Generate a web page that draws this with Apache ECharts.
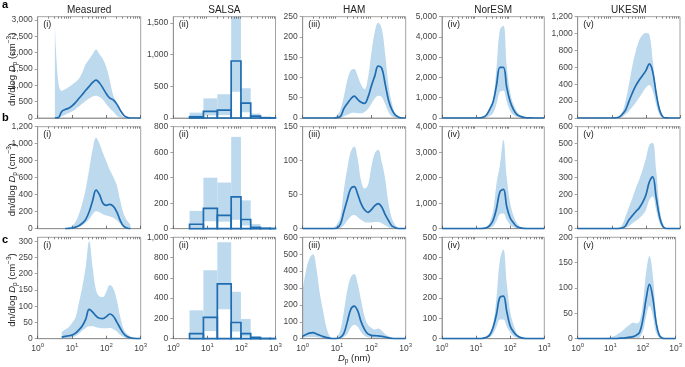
<!DOCTYPE html>
<html><head><meta charset="utf-8">
<script src="https://cdn.jsdelivr.net/npm/echarts@6/dist/echarts.min.js"></script>
<style>html,body{margin:0;padding:0;background:#fff}#c{width:685px;height:367px}</style>
</head><body><div id="c"></div><script>
const N = null;
// particle diameter grid (nm), shared by all smooth curves
const D = [1,1.26,1.58,2,2.51,3.16,3.98,5.01,6.31,7.94,10,12.6,15.8,20,25.1,31.6,39.8,50.1,63.1,79.4,100,126,158,200,251,316,398,501,631,794,1000];

// ---- Measured ----
const measA_med = [N,N,N,N,N, 0,10,200,260,298, 370,473,596,720,850, 966,1089,1160,1069,915, 740,607,555,432,246, 92,20,0,0,0, 0];
const measA_hi  = [N,N,N,N,N, 2900,1100,830,880,950, 1020,1100,1200,1400,1650, 1800,1950,2100,1950,1800, 1550,1150,700,470,150, 30,0,0,0,0, 0];
const measA_lo  = [N,N,N,N,N, 0,0,50,100,150, 200,270,350,440,530, 600,660,680,640,560, 420,300,200,80,20, 0,0,0,0,0, 0];
const measB_med = [N,N,N,N,N, N,N,N,0,3, 8,18,35,65,110, 200,330,455,400,300, 275,287,265,200,100, 30,8,0,N,N, N];
const measB_hi  = [N,N,N,N,N, N,N,N,5,15, 35,80,170,300,470, 700,930,1070,1000,890, 790,690,612,514,337, 180,100,50,N,N, N];
const measB_lo  = [N,N,N,N,N, N,N,N,0,2, 5,10,20,40,70, 110,170,205,195,170, 155,145,130,100,60, 25,8,0,N,N, N];
const measC_med = [N,N,N,N,N, N,N,5,7,9, 11,17,27,40,60, 90,82,70,63,62, 68,76,70,52,33, 16,7,3,1,0, 0];
const measC_hi  = [N,N,N,N,N, N,N,20,28,35, 48,65,110,160,222, 300,220,150,130,128, 145,165,155,120,70, 30,15,7,2,0, 0];
const measC_lo  = [N,N,N,N,N, N,N,0,1,2, 4,8,15,25,33, 38,38,35,33,32, 32,33,30,22,12, 5,1,0,0,0, 0];

// ---- SALSA (sectional bins) ----
const salsaEdges = [3, 7.66, 19.6, 50, 96.7, 187, 362, 700, 1000];
const salsaA_med = [20, 105, 125, 900, 235, 30, 5, 2];
const salsaA_hi  = [85, 310, 375, 1700, 470, 70, 15, 5];
const salsaA_lo  = [5, 40, 45, 415, 90, 10, 0, 0];
const salsaB_med = [35, 160, 105, 250, 72, 10, 3, 2];
const salsaB_hi  = [140, 400, 362, 720, 222, 36, 12, 5];
const salsaB_lo  = [10, 58, 55, 70, 25, 0, 0, 0];
const salsaC_med = [50, 210, 540, 160, 50, 12, 3, 2];
const salsaC_hi  = [280, 675, 950, 463, 195, 25, 6, 3];
const salsaC_lo  = [10, 75, 290, 70, 20, 0, 0, 0];

// ---- HAM ----
const hamA_med = [0,0,0,0,0, 0,0,0,0,0, 1,4,23,36,47, 54,46,39,36,51, 79,104,128,123,85, 44,20,7,2,0, 0];
const hamA_hi  = [0,0,0,0,0, 0,0,0,0,0, 7,21,53,94,117, 121,104,82,71,98, 160,213,235,221,160, 81,36,11,3,0, 0];
const hamA_lo  = [0,0,0,0,0, 0,0,0,0,0, 0,1,4,8,12, 13,12,12,15,22, 35,48,55,52,35, 15,4,1,0,0, 0];
const hamB_med = [0,0,0,0,0, 0,0,0,0,0, 1,7,25,43,59, 62,51,37,28,24, 28,34,37,32,21, 12,4,1.5,0,0, 0];
const hamB_hi  = [0,0,0,0,0, 0,0,0,0,1.5, 7,18,57,89,113, 121,103,71,59,64, 91,111,116,98,74, 37,15,5,1,0, 0];
const hamB_lo  = [0,0,0,0,0, 0,0,0,0,0, 0,1,5,12,18, 20,17,13,10,9, 9,10,10,8,5, 2,0,0,0,0, 0];
const hamC_med = [16,25,33,36,28, 20,12,6,2,0, 1,8,32,101,174, 193,166,101,55,28, 20,18,17,14,10, 5,2,0,0,0, 0];
const hamC_hi  = [288,407,475,499,416, 268,160,61,12,2, 12,55,160,288,363, 383,327,229,135,82, 64,55,61,47,28, 14,6,1,0,0, 0];
const hamC_lo  = [5,8,10,10,8, 5,3,1,0,0, 0,2,10,30,65, 82,70,40,18,8, 5,4,4,3,2, 0,0,0,0,0, 0];

// ---- NorESM ----
const norA_med = [0,0,0,0,0, 0,0,0,0,0, 0,5,30,150,430, 800,1630,2500,2500,1500, 800,400,165,80,30, 10,2,0,0,0, 0];
const norA_hi  = [0,0,0,0,0, 0,0,0,0,0, 0,5,40,150,400, 900,2500,4350,4550,2550, 1250,650,320,130,50, 15,3,0,0,0, 0];
const norA_lo  = [0,0,0,0,0, 0,0,0,0,0, 0,0,0,30,100, 250,700,1300,1350,800, 350,150,60,20,5, 0,0,0,0,0, 0];
const norB_med = [0,0,0,0,0, 0,0,0,0,0, 0,0,10,40,120, 330,800,1450,1540,850, 420,220,80,30,10, 3,0,0,0,0, 0];
const norB_hi  = [0,0,0,0,0, 0,0,0,0,0, 0,0,20,60,250, 700,1780,2500,3480,2000, 1000,500,210,80,25, 5,0,0,0,0, 0];
const norB_lo  = [0,0,0,0,0, 0,0,0,0,0, 0,0,0,10,40, 100,300,580,600,350, 150,60,20,5,0, 0,0,0,0,0, 0];
const norC_med = [0,0,0,0,0, 0,0,0,0,0, 0,0,2,7,18, 56,122,205,210,133, 62,33,15,6,2, 0,0,0,0,0, 0];
const norC_hi  = [0,0,0,0,0, 0,0,0,0,0, 0,0,5,12,30, 75,207,390,440,273, 133,67,26,10,3, 0,0,0,0,0, 0];
const norC_lo  = [0,0,0,0,0, 0,0,0,0,0, 0,0,0,2,8, 25,60,95,95,60, 30,12,5,1,0, 0,0,0,0,0, 0];

// ---- UKESM ----
const ukA_med = [0,0,0,0,0, 0,0,0,0,0, 0,2,8,44,91, 194,293,380,447,503, 562,640,550,293,95, 12,1,0,0,0, 0];
const ukA_hi  = [0,0,0,0,0, 0,0,0,0,0, 0,3,8,63,194, 392,610,788,914,982, 1006,990,690,333,135, 28,3,0,0,0, 0];
const ukA_lo  = [0,0,0,0,0, 0,0,0,0,0, 0,0,0,10,40, 80,130,180,240,300, 360,390,320,160,40, 5,0,0,0,0, 0];
const ukB_med = [0,0,0,0,0, 0,0,0,0,0, 0,0,1,4,16, 51,76,100,121,153, 198,275,305,185,70, 12,1,0,0,0, 0];
const ukB_hi  = [0,0,0,0,0, 0,0,0,0,0, 0,0,5,22,70, 125,178,237,286,345, 413,492,505,345,130, 30,3,0,0,0, 0];
const ukB_lo  = [0,0,0,0,0, 0,0,0,0,0, 0,0,0,0,5, 15,30,45,60,80, 110,170,190,110,35, 5,0,0,0,0, 0];
const ukC_med = [0,0,0,0,0, 0,0,0,0,0, 0,0,0,1,1, 2,3,4,7,13, 39,80,107,81,33, 7,1,0,0,0, 0];
const ukC_hi  = [0,0,0,0,0, 0,0,0,1,2, 3,5,8,12,17, 23,28,32,30,35, 71,132,163,125,47, 9,2,0,0,0, 0];
const ukC_lo  = [0,0,0,0,0, 0,0,0,0,0, 0,0,0,0,0, 0,0,0,0,3, 15,45,65,45,12, 2,0,0,0,0, 0];

// ---- labels / axes ----
const colTitles = ['Measured', 'SALSA', 'HAM', 'NorESM', 'UKESM'];
const panelTags = ['(i)', '(ii)', '(iii)', '(iv)', '(v)'];
const rowTags = ['a', 'b', 'c'];
const yMax  = [[3100, 1600, 250, 5000, 1200], [1200, 800, 150, 4000, 600], [312, 1000, 600, 500, 200]];
const yStep = [[500, 500, 50, 1000, 200], [200, 200, 50, 1000, 100], [50, 200, 100, 100, 50]];
const xMajor = [1, 10, 100, 1000];
const xMinor = [2,3,4,5,6,7,8,9,20,30,40,50,60,70,80,90,200,300,400,500,600,700,800,900];

const smoothData = {
  '0_0': [measA_med, measA_hi, measA_lo], '1_0': [measB_med, measB_hi, measB_lo], '2_0': [measC_med, measC_hi, measC_lo],
  '0_2': [hamA_med, hamA_hi, hamA_lo], '1_2': [hamB_med, hamB_hi, hamB_lo], '2_2': [hamC_med, hamC_hi, hamC_lo],
  '0_3': [norA_med, norA_hi, norA_lo], '1_3': [norB_med, norB_hi, norB_lo], '2_3': [norC_med, norC_hi, norC_lo],
  '0_4': [ukA_med, ukA_hi, ukA_lo], '1_4': [ukB_med, ukB_hi, ukB_lo], '2_4': [ukC_med, ukC_hi, ukC_lo]
};
const salsaData = [[salsaA_med, salsaA_hi, salsaA_lo], [salsaB_med, salsaB_hi, salsaB_lo], [salsaC_med, salsaC_hi, salsaC_lo]];

// ---- layout (px) ----
const LEFT = [37.7, 173.3, 302.7, 442, 577.7];
const WIDTH = [103, 102.2, 103, 102.3, 102.3];
const TOP = [16.7, 126.7, 237.3];
const HEIGHT = [101.3, 102, 101.4];
const BLUE = '#1f6cb0', BAND = '#bcd9ee', FRAME = '#8c8c8c', TICK = '#555', LBL = '#444', TXT = '#222';
const FONT = '"Liberation Sans", Arial, Helvetica, sans-serif';

const grid = [], xAxis = [], yAxis = [], series = [], graphic = [];
const pairs = arr => arr.map((v, k) => [D[k], v]);

let gi = 0;
for (let r = 0; r < 3; r++) {
  for (let c = 0; c < 5; c++) {
    grid.push({left: LEFT[c], top: TOP[r], width: WIDTH[c], height: HEIGHT[r], show: true,
      borderColor: FRAME, borderWidth: 0.8, backgroundColor: 'transparent', z: 5});
    const xa = 2 * gi;
    xAxis.push({gridIndex: gi, type: 'log', logBase: 10, min: 1, max: 1000, z: 5,
      axisLine: {show: true, lineStyle: {color: FRAME, width: 0.8}},
      axisTick: {show: true, inside: true, length: 3, customValues: xMajor, lineStyle: {color: TICK, width: 0.8}},
      splitLine: {show: false},
      axisLabel: {show: r === 2, customValues: xMajor, margin: 4, fontSize: 8.5, color: LBL, fontFamily: FONT, lineHeight: 11,
        formatter: v => '10{s|' + Math.round(Math.log10(v)) + '}',
        rich: {s: {fontSize: 6, verticalAlign: 'top', lineHeight: 6, color: LBL, fontFamily: FONT}}}
    });
    xAxis.push({gridIndex: gi, type: 'log', logBase: 10, min: 1, max: 1000, z: 5,
      axisLine: {show: false}, splitLine: {show: false}, axisLabel: {show: false},
      axisTick: {show: true, inside: true, length: 2, customValues: xMinor, lineStyle: {color: TICK, width: 0.7}}
    });
    const tv = [];
    for (let v = 0; v <= yMax[r][c] + 1e-9; v += yStep[r][c]) tv.push(v);
    yAxis.push({gridIndex: gi, type: 'value', min: 0, max: yMax[r][c], interval: yStep[r][c], z: 5,
      axisLine: {show: true, lineStyle: {color: FRAME, width: 0.8}},
      axisTick: {show: true, inside: false, length: 3, customValues: tv, lineStyle: {color: FRAME, width: 0.8}},
      splitLine: {show: false},
      axisLabel: {customValues: tv, margin: 5, fontSize: 8.5, color: LBL, fontFamily: FONT,
        formatter: v => (tv.indexOf(v) >= 0 ? v.toLocaleString('en-US') : '')}
    });

    if (c === 1) {
      const [med, hi, lo] = salsaData[r];
      const bins = med.map((m, i) => [salsaEdges[i], salsaEdges[i + 1], lo[i], hi[i], m]);
      series.push({type: 'custom', xAxisIndex: xa, yAxisIndex: gi, data: bins, z: 1, silent: true,
        encode: {x: [0, 1], y: [2, 3]},
        renderItem: (params, api) => {
          const a = api.coord([api.value(0), api.value(2)]);
          const b = api.coord([api.value(1), api.value(3)]);
          const cs = params.coordSys;
          const shape = echarts.graphic.clipRectByRect({x: a[0], y: b[1], width: b[0] - a[0], height: a[1] - b[1]},
            {x: cs.x, y: cs.y, width: cs.width, height: cs.height});
          return shape ? {type: 'rect', shape, style: {fill: BAND}} : null;
        }});
      series.push({type: 'custom', xAxisIndex: xa, yAxisIndex: gi, data: bins, z: 6, silent: true,
        encode: {x: [0, 1], y: [4]},
        renderItem: (params, api) => {
          const a = api.coord([api.value(0), 0]);
          const b = api.coord([api.value(1), api.value(4)]);
          return {type: 'rect', shape: {x: a[0], y: b[1], width: b[0] - a[0], height: a[1] - b[1]},
            style: {fill: 'none', stroke: BLUE, lineWidth: 1.7}};
        }});
    } else {
      const [med, hi, lo] = smoothData[r + '_' + c];
      const base = {type: 'line', xAxisIndex: xa, yAxisIndex: gi, smooth: 0.4, symbol: 'none', showSymbol: false, silent: true, connectNulls: false};
      series.push(Object.assign({}, base, {data: pairs(hi), z: 1, lineStyle: {width: 0, opacity: 0}, areaStyle: {color: BAND, opacity: 1}}));
      series.push(Object.assign({}, base, {data: pairs(lo), z: 2, lineStyle: {width: 0, opacity: 0}, areaStyle: {color: '#ffffff', opacity: 1}}));
      series.push(Object.assign({}, base, {data: pairs(med), z: 6, lineStyle: {color: BLUE, width: 1.7}}));
    }

    graphic.push({type: 'text', x: LEFT[c] + 5.5, y: TOP[r] + 8, z: 10,
      style: {text: panelTags[c], fontSize: 9, fontFamily: FONT, fill: TXT, align: 'left', verticalAlign: 'middle'}});
    gi++;
  }
}
for (let c = 0; c < 5; c++) {
  graphic.push({type: 'text', x: LEFT[c] + WIDTH[c] / 2, y: 10.5, z: 10,
    style: {text: colTitles[c], fontSize: 10, fontFamily: FONT, fill: TXT, align: 'center', verticalAlign: 'middle'}});
}
const rowLetterY = [4.5, 117.5, 240];
for (let r = 0; r < 3; r++) {
  graphic.push({type: 'text', x: 2, y: rowLetterY[r], z: 10,
    style: {text: rowTags[r], fontSize: 11, fontWeight: 'bold', fontFamily: FONT, fill: '#000', align: 'left', verticalAlign: 'middle'}});
  graphic.push({type: 'text', x: 12.5, y: TOP[r] + HEIGHT[r] / 2 + 2, rotation: Math.PI / 2, z: 10,
    style: {text: 'dn/dlog {i|D}{sub|p} (cm{sup|−3})', fontSize: 9.5, fontFamily: FONT, fill: TXT, align: 'center', verticalAlign: 'middle', lineHeight: 13,
      rich: {i: {fontStyle: 'italic', fontSize: 9.5, fontFamily: FONT, fill: TXT, lineHeight: 13},
             sub: {fontSize: 6.5, fontFamily: FONT, fill: TXT, verticalAlign: 'bottom', lineHeight: 8},
             sup: {fontSize: 6.5, fontFamily: FONT, fill: TXT, verticalAlign: 'top', lineHeight: 8}}}});
}
graphic.push({type: 'text', x: LEFT[2] + WIDTH[2] / 2, y: 358.5, z: 10,
  style: {text: '{i|D}{sub|p} (nm)', fontSize: 9.5, fontFamily: FONT, fill: TXT, align: 'center', verticalAlign: 'middle', lineHeight: 13,
    rich: {i: {fontStyle: 'italic', fontSize: 9.5, fontFamily: FONT, fill: TXT, lineHeight: 13},
           sub: {fontSize: 6.5, fontFamily: FONT, fill: TXT, verticalAlign: 'bottom', lineHeight: 8}}}});

const chart = echarts.init(document.getElementById('c'), null, {renderer: 'canvas'});
chart.setOption({animation: false, backgroundColor: '#fff', textStyle: {fontFamily: FONT},
  grid, xAxis, yAxis, series, graphic});
</script></body></html>
